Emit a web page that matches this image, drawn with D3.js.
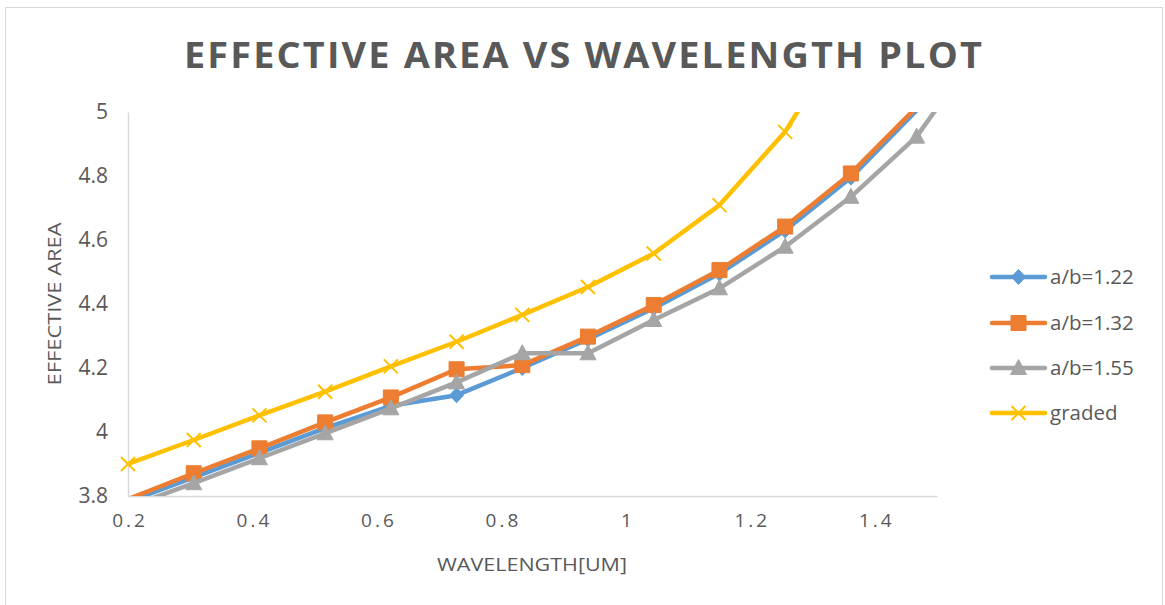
<!DOCTYPE html>
<html>
<head>
<meta charset="utf-8">
<script src="https://cdn.jsdelivr.net/npm/d3@7"></script>
<style>
  body { margin: 0; background: #fff; }
  svg { display: block; }
</style>
</head>
<body>
<svg id="chart" width="1165" height="605"></svg>
<script>
// Wavelength samples (um)
const wavelength = [0.2, 0.3056, 0.4112, 0.5168, 0.6224, 0.728, 0.8336, 0.9392, 1.0448, 1.1504, 1.256, 1.3616, 1.4672, 1.5728];

// Effective area per fibre design
const ab122  = [3.782, 3.858, 3.935, 4.012, 4.082, 4.115, 4.200, 4.290, 4.387, 4.495, 4.630, 4.795, 5.005, 5.230];
const ab132  = [3.790, 3.871, 3.949, 4.030, 4.108, 4.196, 4.209, 4.298, 4.397, 4.506, 4.642, 4.808, 5.015, 5.250];
const ab155  = [3.765, 3.840, 3.918, 3.996, 4.074, 4.155, 4.246, 4.246, 4.350, 4.449, 4.579, 4.735, 4.923, 5.210];
const graded = [3.900, 3.975, 4.052, 4.126, 4.205, 4.282, 4.366, 4.453, 4.558, 4.709, 4.938, 5.270];

const seriesNames = ["a/b=1.22", "a/b=1.32", "a/b=1.55", "graded"];
const xTicks = [0.2, 0.4, 0.6, 0.8, 1, 1.2, 1.4];
const yTicks = [3.8, 4, 4.2, 4.4, 4.6, 4.8, 5];

const series = [
  { name: seriesNames[0], values: ab122,  color: "#5B9BD5", marker: "diamond" },
  { name: seriesNames[1], values: ab132,  color: "#ED7D31", marker: "square" },
  { name: seriesNames[2], values: ab155,  color: "#A5A5A5", marker: "triangle" },
  { name: seriesNames[3], values: graded, color: "#FFC000", marker: "cross" }
];

const svg = d3.select("#chart");
const FONT = "'Open Sans', 'Noto Sans', sans-serif";
const TEXT = "#595959";

// Outer chart frame
svg.append("rect")
  .attr("x", 5.5).attr("y", 7.5).attr("width", 1157).attr("height", 600)
  .attr("fill", "#fff").attr("stroke", "#d9d9d9").attr("stroke-width", 1);

const plot = { left: 128, right: 937, top: 112, bottom: 496 };
const x = d3.scaleLinear().domain([0.2, 1.5]).range([plot.left, plot.right]);
const y = d3.scaleLinear().domain([3.8, 5]).range([plot.bottom, plot.top]);

// Title
svg.append("text")
  .attr("x", 584).attr("y", 68)
  .attr("text-anchor", "middle")
  .attr("font-family", FONT).attr("font-weight", 700).attr("font-size", 35)
  .attr("fill", TEXT)
  .attr("letter-spacing", "2px")
  .attr("textLength", 800).attr("lengthAdjust", "spacingAndGlyphs")
  .text("EFFECTIVE AREA VS WAVELENGTH PLOT");

// Axes
const fmt = d => String(+d.toFixed(2));

const yAxis = svg.append("g")
  .attr("transform", `translate(${plot.left},0)`)
  .call(d3.axisLeft(y).tickValues(yTicks).tickSize(0).tickPadding(20).tickFormat(fmt));
yAxis.select(".domain").attr("stroke", "#d9d9d9").attr("stroke-width", 1.5);
yAxis.selectAll("text")
  .attr("font-family", FONT).attr("font-size", 21).attr("fill", TEXT);

const xAxis = svg.append("g")
  .attr("transform", `translate(0,${plot.bottom})`)
  .call(d3.axisBottom(x).tickValues(xTicks).tickSize(0).tickPadding(18).tickFormat(fmt));
xAxis.select(".domain").attr("stroke", "#d9d9d9").attr("stroke-width", 1.5);
xAxis.selectAll("text")
  .attr("font-family", FONT).attr("font-size", 19).attr("fill", TEXT)
  .attr("letter-spacing", "3px").attr("dx", "1.5px");

// Axis titles
svg.append("text")
  .attr("transform", "translate(61,304) rotate(-90)")
  .attr("text-anchor", "middle")
  .attr("font-family", FONT).attr("font-size", 19).attr("fill", TEXT)
  .attr("textLength", 163).attr("lengthAdjust", "spacingAndGlyphs")
  .text("EFFECTIVE AREA");

svg.append("text")
  .attr("x", 532).attr("y", 571)
  .attr("text-anchor", "middle")
  .attr("font-family", FONT).attr("font-size", 19).attr("fill", TEXT)
  .attr("textLength", 190).attr("lengthAdjust", "spacingAndGlyphs")
  .text("WAVELENGTH[UM]");

// Clip lines to the plotting area
svg.append("defs").append("clipPath").attr("id", "plot-clip")
  .append("rect")
  .attr("x", plot.left).attr("y", plot.top)
  .attr("width", plot.right - plot.left).attr("height", plot.bottom - plot.top);

function markerPath(kind) {
  switch (kind) {
    case "diamond":  return "M0,-7.5L7,0L0,7.5L-7,0Z";
    case "square":   return "M-7.5,-7.5H7.5V7.5H-7.5Z";
    case "triangle": return "M0,-8.5L8,6.5H-8Z";
    default:         return "M-7,-7L7,7M-7,7L7,-7";
  }
}

function drawMarker(g, kind, color, cx, cy) {
  const p = g.append("path")
    .attr("transform", `translate(${cx},${cy})`)
    .attr("d", markerPath(kind));
  if (kind === "cross") {
    p.attr("fill", "none").attr("stroke", color).attr("stroke-width", 2);
  } else {
    p.attr("fill", color).attr("stroke", color).attr("stroke-width", 1);
  }
}

const line = d3.line().x(d => x(d[0])).y(d => y(d[1]));
const [xmin, xmax] = x.domain();
const [ymin, ymax] = y.domain();

series.forEach(s => {
  const pts = s.values.map((v, i) => [wavelength[i], v]);
  const g = svg.append("g");
  g.append("path")
    .datum(pts)
    .attr("clip-path", "url(#plot-clip)")
    .attr("fill", "none")
    .attr("stroke", s.color)
    .attr("stroke-width", 4.5)
    .attr("stroke-linejoin", "round")
    .attr("stroke-linecap", "round")
    .attr("d", line);
  pts.filter(p => p[0] >= xmin && p[0] <= xmax && p[1] >= ymin && p[1] <= ymax)
    .forEach(p => drawMarker(g, s.marker, s.color, x(p[0]), y(p[1])));
});

// Legend
const legendRows = [277, 323, 368, 413];
series.forEach((s, i) => {
  const g = svg.append("g").attr("transform", `translate(0,${legendRows[i]})`);
  g.append("line")
    .attr("x1", 992).attr("x2", 1045).attr("y1", 0).attr("y2", 0)
    .attr("stroke", s.color).attr("stroke-width", 4.5).attr("stroke-linecap", "round");
  drawMarker(g, s.marker, s.color, 1018.5, 0);
  g.append("text")
    .attr("x", 1050).attr("y", 0).attr("dy", "0.35em")
    .attr("font-family", FONT).attr("font-size", 20.5).attr("fill", TEXT)
    .text(s.name);
});
</script>
</body>
</html>
